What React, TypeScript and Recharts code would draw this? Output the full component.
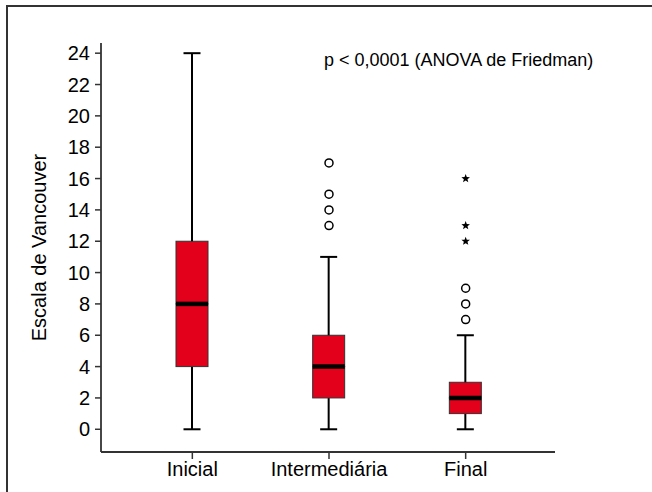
import { ComposedChart, Bar, Scatter, XAxis, YAxis, Label } from 'recharts';

// Escala de Vancouver em três momentos
const categories = ['Inicial', 'Intermediária', 'Final'];
const minValues = [0, 0, 0];
const q1Values = [4, 2, 1];
const medianValues = [8, 4, 2];
const q3Values = [12, 6, 3];
const maxValues = [24, 11, 6];

const circleCategory = ['Intermediária', 'Intermediária', 'Intermediária', 'Intermediária', 'Final', 'Final', 'Final'];
const circleValues = [13, 14, 15, 17, 7, 8, 9];
const starCategory = ['Final', 'Final', 'Final'];
const starValues = [12, 13, 16];

const yTicks = [0, 2, 4, 6, 8, 10, 12, 14, 16, 18, 20, 22, 24];

const FONT = '"Liberation Sans", Arial, Helvetica, sans-serif';
const RED = '#e3001b';

const data = categories.map((name, i) => ({
    name,
    base: minValues[i],
    lowWhisker: q1Values[i] - minValues[i],
    lowBox: medianValues[i] - q1Values[i],
    highBox: q3Values[i] - medianValues[i],
    highWhisker: maxValues[i] - q3Values[i],
}));

const circles = circleValues.map((value, i) => ({ name: circleCategory[i], value }));
const stars = starValues.map((value, i) => ({ name: starCategory[i], value }));

const Empty = () => <g />;

const WhiskerLow = (props: any) => {
    const { x, y, width, height } = props;
    const cx = x + width / 2;
    return (
        <g>
            <line x1={cx} x2={cx} y1={y} y2={y + height} stroke="#000" strokeWidth={2} />
            <line x1={cx - 8.5} x2={cx + 8.5} y1={y + height} y2={y + height} stroke="#000" strokeWidth={2} />
        </g>
    );
};

const WhiskerHigh = (props: any) => {
    const { x, y, width, height } = props;
    const cx = x + width / 2;
    return (
        <g>
            <line x1={cx} x2={cx} y1={y} y2={y + height} stroke="#000" strokeWidth={2} />
            <line x1={cx - 8.5} x2={cx + 8.5} y1={y} y2={y} stroke="#000" strokeWidth={2} />
        </g>
    );
};

const LowBox = (props: any) => {
    const { x, y, width, height } = props;
    return <rect x={x} y={y} width={width} height={height} fill={RED} stroke="#333" strokeWidth={1} />;
};

const HighBox = (props: any) => {
    const { x, y, width, height } = props;
    return (
        <g>
            <rect x={x} y={y} width={width} height={height} fill={RED} stroke="#333" strokeWidth={1} />
            <line x1={x} x2={x + width} y1={y + height} y2={y + height} stroke="#000" strokeWidth={4.5} />
        </g>
    );
};

const Circle = (props: any) => {
    const { cx, cy } = props;
    return <circle cx={cx} cy={cy} r={4} fill="#fff" stroke="#000" strokeWidth={1.5} />;
};

const Star = (props: any) => {
    const { cx, cy } = props;
    const pts: string[] = [];
    for (let k = 0; k < 10; k++) {
        const r = k % 2 === 0 ? 4.5 : 1.9;
        const a = -Math.PI / 2 + (k * Math.PI) / 5;
        pts.push(`${cx + r * Math.cos(a)},${cy + r * Math.sin(a)}`);
    }
    return <polygon points={pts.join(' ')} fill="#000" />;
};

const App = () => {
    return (
        <div style={{ position: 'absolute', left: 0, top: 0, width: 652, height: 492, overflow: 'hidden', background: '#fff', fontFamily: FONT }}>
            <div
                style={{
                    position: 'absolute',
                    left: 6,
                    top: 5,
                    width: 700,
                    height: 600,
                    borderLeft: '2px solid #333',
                    borderTop: '2px solid #333',
                }}
            />
            <div style={{ position: 'absolute', left: 0, top: 0 }}>
                <ComposedChart width={652} height={492} data={data} margin={{ top: 43, right: 97, bottom: 0, left: 0 }}>
                    <XAxis
                        dataKey="name"
                        allowDuplicatedCategory={false}
                        height={40}
                        padding={{ left: 23, right: 21 }}
                        axisLine={{ stroke: '#333', strokeWidth: 1.8 }}
                        tickLine={{ stroke: '#333', strokeWidth: 1.5 }}
                        tickSize={7}
                        tickMargin={3}
                        tick={{ fill: '#000', fontSize: 20, fontFamily: FONT }}
                    />
                    <YAxis
                        type="number"
                        domain={[-1.45, 24.65]}
                        ticks={yTicks}
                        allowDataOverflow
                        width={101}
                        axisLine={{ stroke: '#333', strokeWidth: 1.8 }}
                        tickLine={{ stroke: '#333', strokeWidth: 1.5 }}
                        tickSize={6}
                        tickMargin={5}
                        tick={{ fill: '#000', fontSize: 20, fontFamily: FONT }}
                    >
                        <Label
                            value="Escala de Vancouver"
                            angle={-90}
                            position="center"
                            dx={-12}
                            style={{ fill: '#000', fontSize: 20, fontFamily: FONT }}
                        />
                    </YAxis>
                    <Bar dataKey="base" stackId="box" barSize={32} shape={<Empty />} isAnimationActive={false} />
                    <Bar dataKey="lowWhisker" stackId="box" barSize={32} shape={<WhiskerLow />} isAnimationActive={false} />
                    <Bar dataKey="lowBox" stackId="box" barSize={32} shape={<LowBox />} isAnimationActive={false} />
                    <Bar dataKey="highBox" stackId="box" barSize={32} shape={<HighBox />} isAnimationActive={false} />
                    <Bar dataKey="highWhisker" stackId="box" barSize={32} shape={<WhiskerHigh />} isAnimationActive={false} />
                    <Scatter data={circles} dataKey="value" shape={<Circle />} isAnimationActive={false} />
                    <Scatter data={stars} dataKey="value" shape={<Star />} isAnimationActive={false} />
                    <text x={324} y={66} fontSize={18} fontFamily={FONT} fill="#000">
                        p &lt; 0,0001 (ANOVA de Friedman)
                    </text>
                </ComposedChart>
            </div>
        </div>
    );
};

export default App;
